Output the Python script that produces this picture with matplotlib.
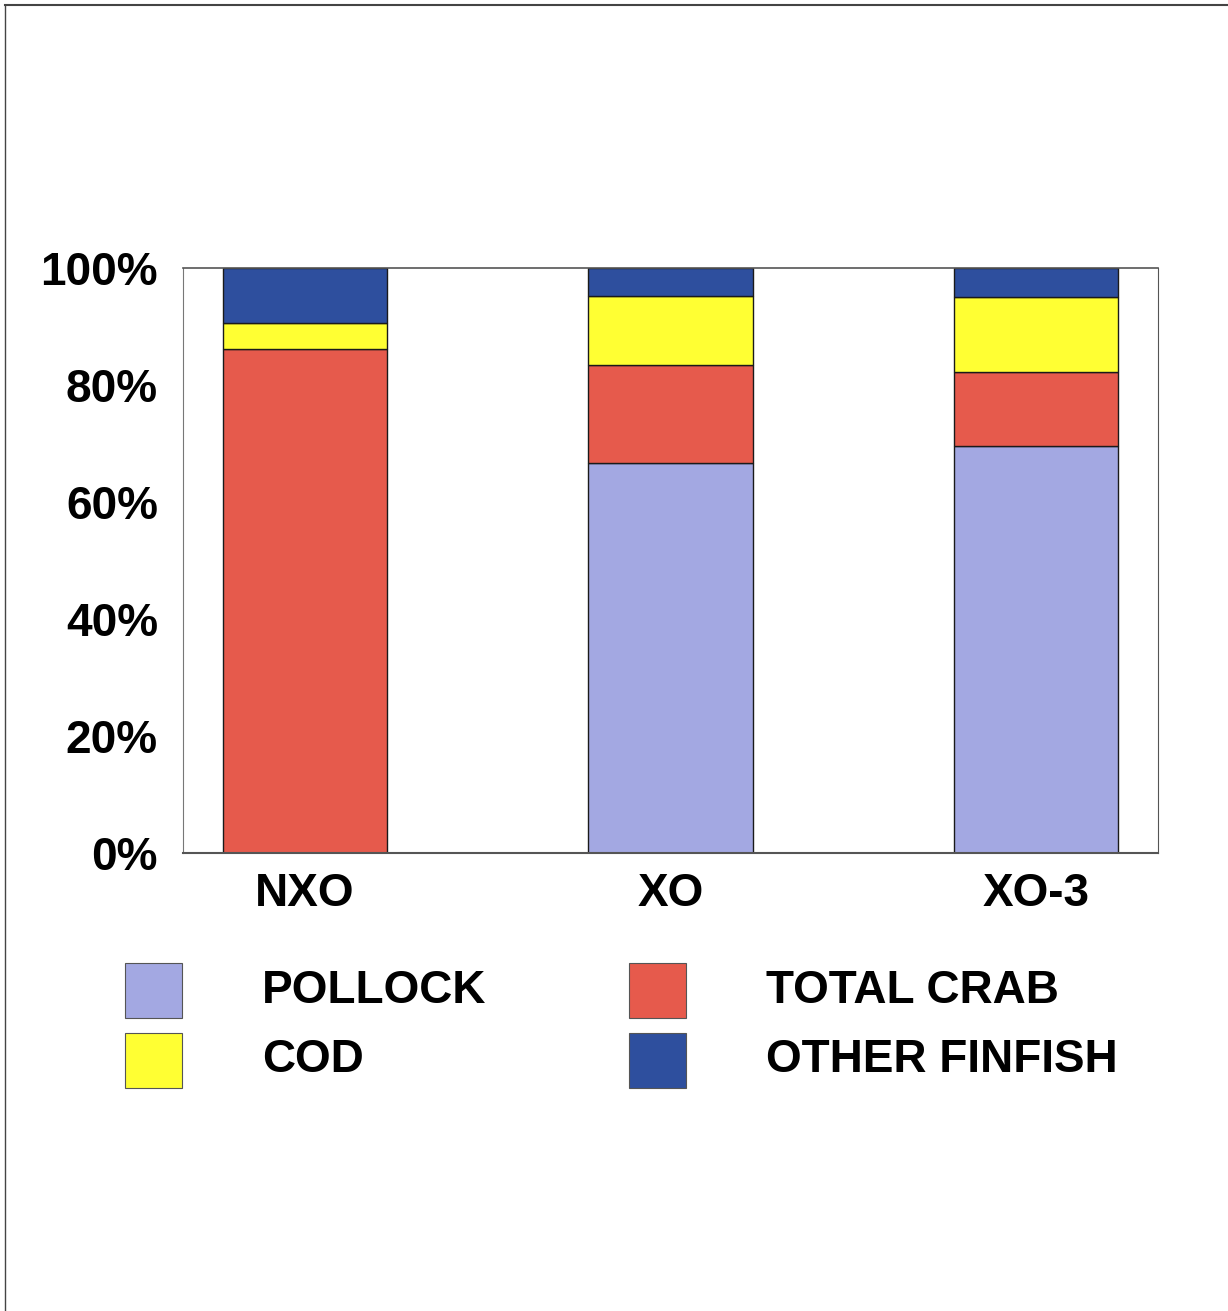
import matplotlib
matplotlib.use("Agg")
import matplotlib.pyplot as plt
from matplotlib.patches import Rectangle
from matplotlib.lines import Line2D
import numpy as np

# Share of catch (%) by fishery group
categories = ["NXO", "XO", "XO-3"]
series_names = ["POLLOCK", "TOTAL CRAB", "COD", "OTHER FINFISH"]
pollock = [0.0, 66.7, 69.6]
total_crab = [86.2, 16.7, 12.6]
cod = [4.4, 11.8, 12.8]
other_finfish = [9.4, 4.8, 5.0]
y_tick_labels = ["0%", "20%", "40%", "60%", "80%", "100%"]

colors = ["#a3a8e2", "#e65a4c", "#ffff33", "#2e4f9e"]

plt.rcParams["font.family"] = ["Liberation Sans", "DejaVu Sans"]

fig = plt.figure(figsize=(12.28, 13.11), dpi=100)
ax = fig.add_axes([0.149, 0.3494, 0.794, 0.4462])

x = np.arange(len(categories))
bottom = np.zeros(len(categories))
for vals, col in zip([pollock, total_crab, cod, other_finfish], colors):
    v = np.array(vals)
    ax.bar(x, v, bottom=bottom, width=0.45, color=col,
           edgecolor="#1a1a1a", linewidth=1.0)
    bottom += v

ax.set_xlim(-0.334, 2.334)
ax.set_ylim(0, 100)
ax.set_yticks(np.linspace(0, 100, 6))
ax.set_yticklabels(y_tick_labels, fontsize=33, fontweight="bold")
ax.set_xticks(x)
ax.set_xticklabels(categories, fontsize=33, fontweight="bold")
ax.tick_params(axis="y", length=0, pad=18)
ax.tick_params(axis="x", length=0, pad=14)

for side in ["left", "right", "top", "bottom"]:
    ax.spines[side].set_color("#555555")
ax.spines["left"].set_color("#777777")
ax.spines["left"].set_linewidth(0.8)
ax.spines["right"].set_linewidth(0.8)
ax.spines["top"].set_linewidth(1.2)
ax.spines["bottom"].set_linewidth(1.5)

# Legend: two columns of swatches and labels
sw_w, sw_h = 57 / 1228, 55 / 1311
rows_y = [1 - 1018 / 1311, 1 - 1088 / 1311]
cols_x = [125 / 1228, 629 / 1228]
text_dx = 137 / 1228
order = [(0, 0), (0, 1), (1, 0), (1, 1)]
for name, col, (r, c) in zip(series_names, colors, order):
    fig.add_artist(Rectangle((cols_x[c], rows_y[r]), sw_w, sw_h,
                             transform=fig.transFigure, facecolor=col,
                             edgecolor="#555555", linewidth=0.8))
    fig.text(cols_x[c] + text_dx, rows_y[r] + sw_h / 2, name,
             fontsize=33, fontweight="bold", va="center", ha="left")

# Page frame lines
fig.add_artist(Line2D([0.004, 1.0], [1 - 5 / 1311, 1 - 5 / 1311],
                      transform=fig.transFigure, color="#444444", linewidth=1.5))
fig.add_artist(Line2D([0.004, 0.004], [0.0, 1 - 5 / 1311],
                      transform=fig.transFigure, color="#444444", linewidth=1.0))

fig.savefig("out.png", dpi=100, facecolor="white")
